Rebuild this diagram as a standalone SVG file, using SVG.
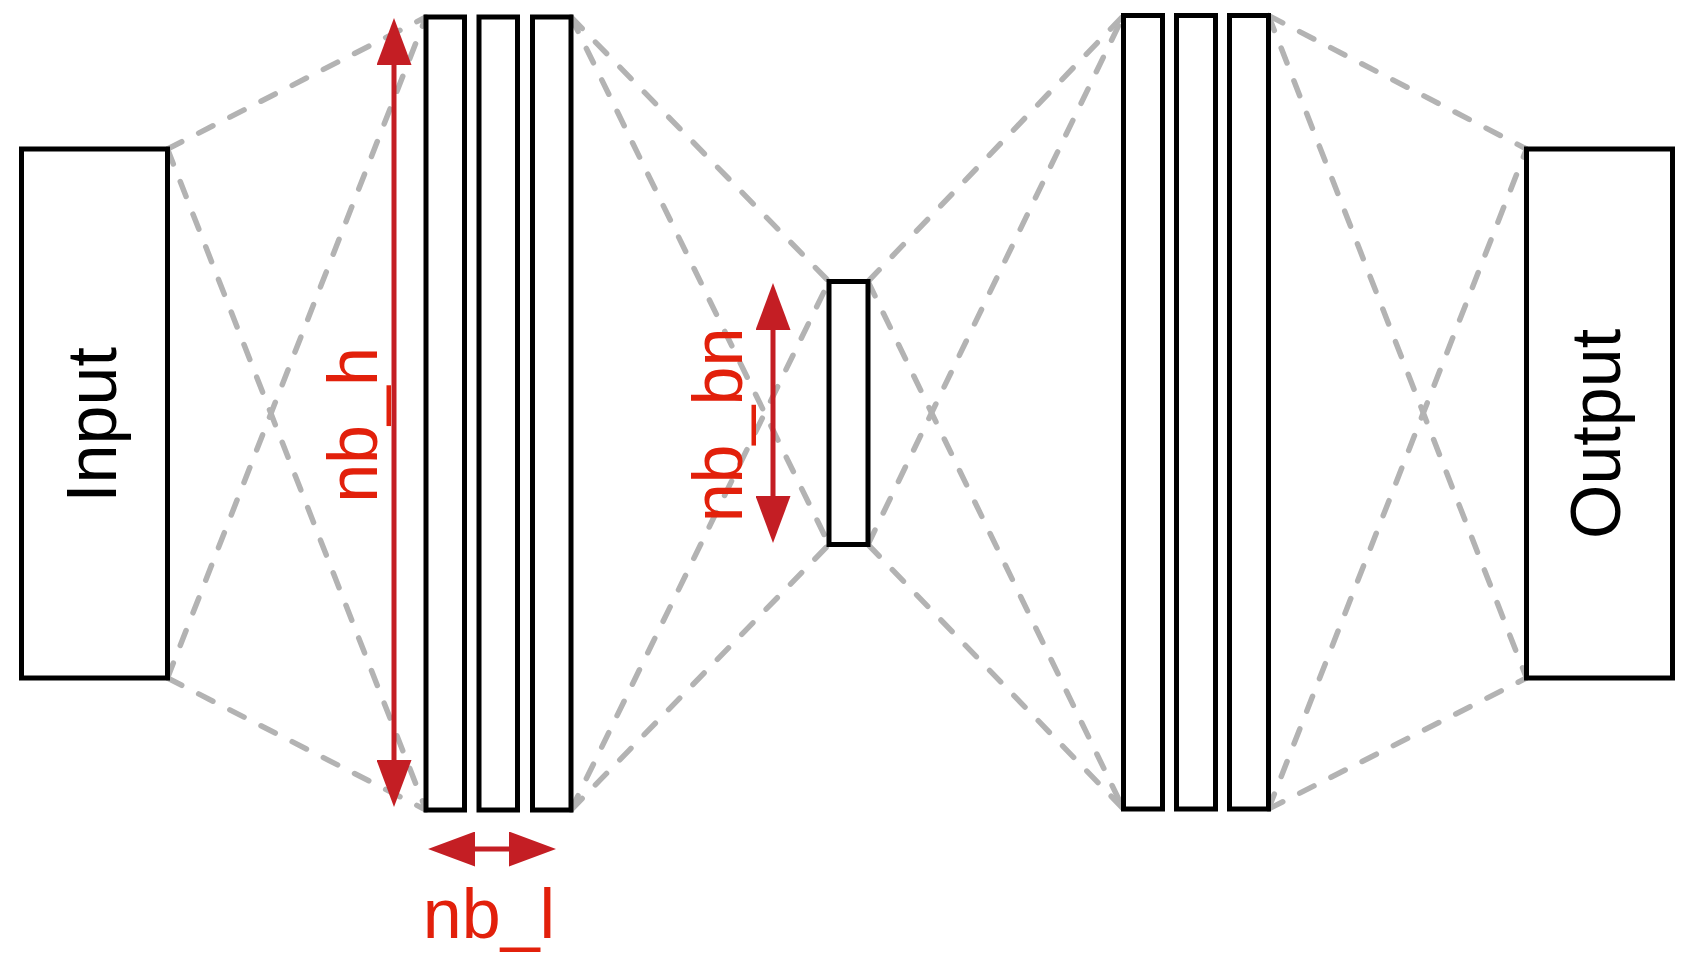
<svg xmlns="http://www.w3.org/2000/svg" width="1695" height="964" viewBox="0 0 1695 964">
<defs>
<style>
.box{fill:#fff;stroke:#000;stroke-width:5}
.conn line{stroke:#b3b3b3;stroke-width:5.5;stroke-dasharray:16 19;stroke-linecap:round;fill:none}
.dim{stroke:#c41e24;stroke-width:5;fill:none}
.lbl{font-family:"Liberation Sans",Arial,sans-serif;font-size:70px;text-anchor:middle}
.red{fill:#e2200b}
</style>
<marker id="ah" viewBox="0 0 47 35" markerWidth="47" markerHeight="35" refX="27" refY="17.5" markerUnits="userSpaceOnUse" orient="auto-start-reverse">
<path d="M0,0 L47,17.5 L0,35 Z" fill="#c41e24"/>
</marker>
</defs>
<rect width="1695" height="964" fill="#fff"/>
<g id="connectors" class="conn">
<line x1="167.5" y1="149" x2="426" y2="17"/>
<line x1="167.5" y1="149" x2="426" y2="810"/>
<line x1="167.5" y1="678" x2="426" y2="17"/>
<line x1="167.5" y1="678" x2="426" y2="810"/>
<line x1="571" y1="17" x2="829" y2="281.5"/>
<line x1="571" y1="17" x2="829" y2="544.5"/>
<line x1="571" y1="810" x2="829" y2="281.5"/>
<line x1="571" y1="810" x2="829" y2="544.5"/>
<line x1="868" y1="281.5" x2="1123.5" y2="15.5"/>
<line x1="868" y1="281.5" x2="1123.5" y2="809"/>
<line x1="868" y1="544.5" x2="1123.5" y2="15.5"/>
<line x1="868" y1="544.5" x2="1123.5" y2="809"/>
<line x1="1268.5" y1="15.5" x2="1526.5" y2="149"/>
<line x1="1268.5" y1="15.5" x2="1526.5" y2="678"/>
<line x1="1268.5" y1="809" x2="1526.5" y2="149"/>
<line x1="1268.5" y1="809" x2="1526.5" y2="678"/>
</g>
<g id="input">
<rect class="box" x="21.5" y="149" width="146" height="529"/>
<text class="lbl" transform="translate(116,425) rotate(-90)">Input</text>
</g>
<g id="encoder">
<rect class="box" x="426" y="17" width="38.5" height="793"/>
<rect class="box" x="479" y="17" width="38.5" height="793"/>
<rect class="box" x="532.5" y="17" width="38.5" height="793"/>
</g>
<g id="bottleneck">
<rect class="box" x="829" y="281.5" width="39" height="263"/>
</g>
<g id="decoder">
<rect class="box" x="1123.5" y="15.5" width="39" height="793.5"/>
<rect class="box" x="1176.5" y="15.5" width="39" height="793.5"/>
<rect class="box" x="1229.5" y="15.5" width="39" height="793.5"/>
</g>
<g id="output">
<rect class="box" x="1526.5" y="149" width="146" height="529"/>
<text class="lbl" transform="translate(1620,434) rotate(-90)">Output</text>
</g>
<g id="dim-nb_h">
<line class="dim" x1="394" y1="38" x2="394" y2="787" marker-start="url(#ah)" marker-end="url(#ah)"/>
<text class="lbl red" transform="translate(377,425) rotate(-90)">nb_h</text>
</g>
<g id="dim-nb_bn">
<line class="dim" x1="773" y1="303" x2="773" y2="523" marker-start="url(#ah)" marker-end="url(#ah)"/>
<text class="lbl red" transform="translate(742,425) rotate(-90)">nb_bn</text>
</g>
<g id="dim-nb_l">
<line class="dim" x1="448" y1="849" x2="536" y2="849" marker-start="url(#ah)" marker-end="url(#ah)"/>
<text class="lbl red" x="489" y="938">nb_l</text>
</g>
</svg>
